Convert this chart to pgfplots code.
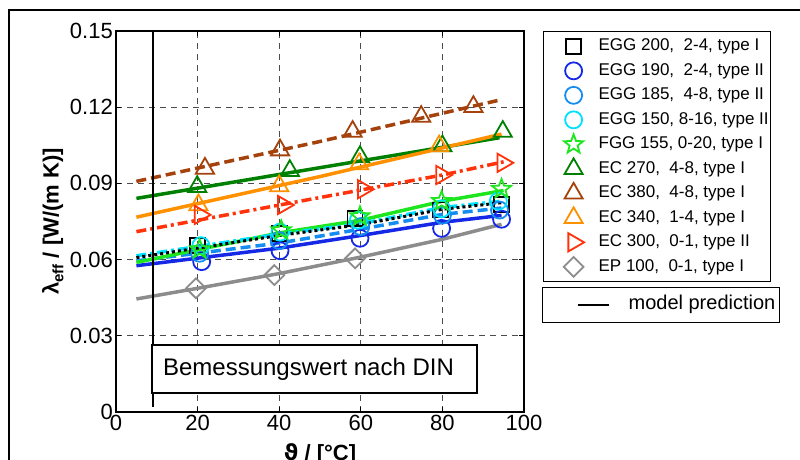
\documentclass[border=0pt]{standalone}
\usepackage{fontspec}
\setmainfont{Liberation Sans}
\newfontfamily\dejavu{DejaVu Sans}
\usepackage{pgfplots}
\pgfplotsset{compat=1.18}
\definecolor{cBlue}{RGB}{20,40,230}
\definecolor{cDodger}{RGB}{20,140,240}
\definecolor{cCyan}{RGB}{0,225,255}
\definecolor{cLime}{RGB}{30,230,30}
\definecolor{cDkGreen}{RGB}{0,128,0}
\definecolor{cBrown}{RGB}{165,65,10}
\definecolor{cOrange}{RGB}{255,145,0}
\definecolor{cRed}{RGB}{255,50,10}
\definecolor{cGray}{RGB}{140,140,140}
\pgfdeclareplotmark{pstar}{%
  \pgfpathmoveto{\pgfpointpolar{90}{\pgfplotmarksize}}%
  \pgfpathlineto{\pgfpointpolar{126}{0.42\pgfplotmarksize}}%
  \pgfpathlineto{\pgfpointpolar{162}{\pgfplotmarksize}}%
  \pgfpathlineto{\pgfpointpolar{198}{0.42\pgfplotmarksize}}%
  \pgfpathlineto{\pgfpointpolar{234}{\pgfplotmarksize}}%
  \pgfpathlineto{\pgfpointpolar{270}{0.42\pgfplotmarksize}}%
  \pgfpathlineto{\pgfpointpolar{306}{\pgfplotmarksize}}%
  \pgfpathlineto{\pgfpointpolar{342}{0.42\pgfplotmarksize}}%
  \pgfpathlineto{\pgfpointpolar{18}{\pgfplotmarksize}}%
  \pgfpathlineto{\pgfpointpolar{54}{0.42\pgfplotmarksize}}%
  \pgfpathclose\pgfusepathqstroke}
\pgfplotsset{mk/.style={only marks, line width=1.8pt,
  legend image code/.code={\path[draw=none,fill=none] (-30pt,0pt) -- (12pt,0pt); \draw[##1] plot coordinates {(0pt,0pt)};}}}
\begin{document}
\begin{tikzpicture}
\begin{axis}[
  scale only axis, width=408pt, height=381pt,
  xmin=0, xmax=100, ymin=0, ymax=0.15,
  xtick={0,20,40,60,80,100}, xticklabels={0,20,40,60,80,100},
  ytick={0,0.03,0.06,0.09,0.12,0.15}, yticklabels={0,0.03,0.06,0.09,0.12,0.15},
  tick align=inside, major tick length=5pt,
  every tick/.style={black, line width=1pt},
  ticklabel style={font=\fontsize{22}{26}\selectfont, inner sep=3pt},
  grid=major,
  major grid style={dash pattern=on 6pt off 5pt, line width=1pt, color=black!70},
  axis line style={line width=1.8pt},
  xlabel={\bfseries{\dejavu ϑ} / [°C]},
  ylabel={\bfseries λ\raisebox{-0.4ex}{\fontsize{15}{15}\selectfont eff} / [W/(m K)]},
  xlabel style={font=\fontsize{22}{26}\selectfont, yshift=-6pt},
  ylabel style={font=\fontsize{22}{26}\selectfont},
  legend cell align=left,
  legend style={at={(1.0466,1)}, anchor=north west, draw=black, line width=1.2pt,
    inner xsep=0pt, inner ysep=2.5pt, row sep=0pt,
    font=\fontsize{17}{20}\selectfont,
    nodes={text height=12.5pt, text depth=4pt, inner ysep=4pt},
    /tikz/every odd column/.style={column sep=11pt}},
]
% measured points
\addplot[mk, color=black, mark=square, mark size=7.5pt] coordinates {(20,0.0655) (40,0.0703) (58.6,0.0762) (79.5,0.0795) (94.5,0.0818)};
\addlegendentry{EGG 200,\ \ 2-4, type I}
\addplot[mk, color=cBlue, mark=o, mark size=8.5pt] coordinates {(21,0.0592) (40.2,0.0635) (59.8,0.0684) (79.8,0.0723) (94.5,0.0759)};
\addlegendentry{EGG 190,\ \ 2-4, type II}
\addplot[mk, color=cDodger, mark=o, mark size=8.5pt] coordinates {(20.5,0.0625) (40,0.0675) (60,0.0730) (80,0.0775) (94,0.0795)};
\addlegendentry{EGG 185,\ \ 4-8, type II}
\addplot[mk, color=cCyan, mark=o, mark size=8.5pt] coordinates {(20.8,0.0655) (40.2,0.0708) (59.4,0.0755) (79.8,0.0800) (93.7,0.0830)};
\addlegendentry{EGG 150, 8-16, type II}
\addplot[mk, color=cLime, mark=pstar, mark size=10pt] coordinates {(20.5,0.0640) (40.5,0.0715) (59.8,0.0770) (79.8,0.0830) (94.5,0.0878)};
\addlegendentry{FGG 155, 0-20, type I}
\addplot[mk, color=cDkGreen, mark=triangle, mark size=10.5pt] coordinates {(19.9,0.0887) (42.6,0.0950) (59.8,0.1005) (80,0.1047) (94.8,0.1104)};
\addlegendentry{EC 270,\ \ 4-8, type I}
\addplot[mk, color=cBrown, mark=triangle, mark size=10.5pt] coordinates {(21.8,0.0959) (40.2,0.1031) (58,0.1104) (74.8,0.1163) (87.6,0.1202)};
\addlegendentry{EC 380,\ \ 4-8, type I}
\addplot[mk, color=cOrange, mark=triangle, mark size=10.5pt] coordinates {(20.2,0.0815) (40,0.0890) (59.6,0.0976) (79.2,0.1047)};
\addlegendentry{EC 340,\ \ 1-4, type I}
\addplot[mk, color=cRed, mark=triangle, mark size=10.5pt, mark options={rotate=-90}] coordinates {(20.6,0.0776) (41,0.0815) (60.6,0.0877) (79.8,0.0933) (94.8,0.0981)};
\addlegendentry{EC 300,\ \ 0-1, type II}
\addplot[mk, color=cGray, mark=square, mark size=7pt, mark options={rotate=45}] coordinates {(19.6,0.0487) (38.8,0.0539) (58.6,0.0605)};
\addlegendentry{EP 100,\ \ 0-1, type I}
% model predictions
\addplot[forget plot, cGray, line width=3.5pt] coordinates {(5,0.0445) (20,0.0487) (40,0.0545) (60,0.0610) (80,0.0680) (94.5,0.0739)};
\addplot[forget plot, cBrown, line width=3.5pt, dash pattern=on 10pt off 5pt] coordinates {(5,0.0908) (50,0.1065) (94,0.1228)};
\addplot[forget plot, cDkGreen, line width=3.5pt] coordinates {(5,0.0841) (50,0.0962) (80,0.1042) (94,0.1080)};
\addplot[forget plot, cOrange, line width=3.5pt] coordinates {(5,0.0767) (50,0.0927) (94.5,0.1094)};
\addplot[forget plot, cRed, line width=3.5pt, dash pattern=on 10pt off 4pt on 3pt off 4pt] coordinates {(5,0.0710) (47.5,0.0837) (80,0.0933) (95,0.0985)};
\addplot[forget plot, cBlue, line width=3.5pt] coordinates {(5,0.0576) (40,0.0645) (60,0.0695) (80,0.0747) (94.5,0.0774)};
\addplot[forget plot, cDodger, line width=3.5pt, dash pattern=on 10pt off 5pt] coordinates {(5,0.0595) (40,0.0665) (60,0.0720) (80,0.0778) (94.5,0.0803)};
\addplot[forget plot, cLime, line width=3.5pt] coordinates {(5,0.0589) (40,0.0705) (60,0.0755) (80,0.0830) (95,0.0872)};
\addplot[forget plot, cCyan, line width=3.5pt, dash pattern=on 10pt off 4pt on 3pt off 4pt] coordinates {(5,0.0615) (40,0.0700) (60,0.0742) (80,0.0805) (94.5,0.0830)};
\addplot[forget plot, black, line width=3pt, dash pattern=on 3pt off 3pt] coordinates {(5,0.0608) (40,0.0695) (60,0.0738) (80,0.0798) (94.5,0.0824)};
% reference line
\addplot[forget plot, black, line width=1.8pt] coordinates {(9,0.002) (9,0.15)};
\draw[line width=1.8pt, fill=white] (axis cs:8.8,0.0075) rectangle (axis cs:88.4,0.0264);
\node[anchor=west, inner sep=0pt, font=\fontsize{24}{28}\selectfont] at (axis cs:11.5,0.0169) {Bemessungswert nach DIN};
\end{axis}
\begin{axis}[
  scale only axis, width=408pt, height=381pt, hide axis,
  xmin=0, xmax=1, ymin=0, ymax=1,
  legend cell align=left,
  legend image code/.code={\path[draw=none,fill=none] (-33pt,0pt) -- (0pt,0pt); \draw[#1] (0pt,0pt) -- (31pt,0pt);},
  legend style={at={(1.0441,0.328)}, anchor=north west, draw=black, line width=1.2pt,
    inner xsep=2pt, inner ysep=4pt,
    font=\fontsize{20}{24}\selectfont,
    nodes={text height=14pt, text depth=4.5pt, inner ysep=4pt},
    /tikz/every odd column/.style={column sep=17pt}},
]
\addlegendimage{black, line width=2pt}
\addlegendentry{model prediction}
\end{axis}
\draw[line width=1.8pt] (-107pt,-60pt) -- (-107pt,402pt) -- (700pt,402pt);
\pgfresetboundingbox
\useasboundingbox (-116pt,-48pt) rectangle (684pt,412pt);
\end{tikzpicture}
\end{document}
